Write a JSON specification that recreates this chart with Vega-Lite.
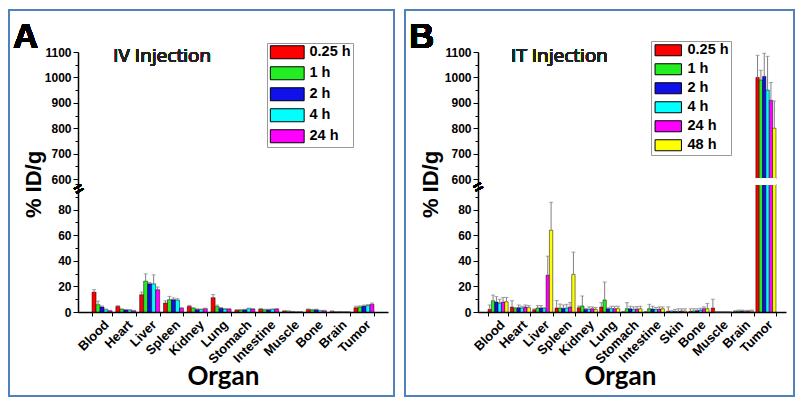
{
  "$schema": "https://vega.github.io/schema/vega-lite/v6.json",
  "padding": {"left": 8, "top": 9, "right": 0, "bottom": 0},
  "spacing": 9,
  "background": "white",
  "resolve": {"scale": {"color": "independent", "x": "independent", "y": "independent", "xOffset": "independent"}, "legend": {"color": "independent"}},
  "datasets": {
    "iv": [
      {"organ": "Blood", "time": "0.25 h", "value": 15.5, "hi": 17.5},
      {"organ": "Blood", "time": "1 h", "value": 5.7, "hi": 8.5},
      {"organ": "Blood", "time": "2 h", "value": 3.9, "hi": 4.7},
      {"organ": "Blood", "time": "4 h", "value": 1.8, "hi": 2.3},
      {"organ": "Blood", "time": "24 h", "value": 1.0, "hi": 1.3},
      {"organ": "Heart", "time": "0.25 h", "value": 4.3, "hi": 5.0},
      {"organ": "Heart", "time": "1 h", "value": 2.0, "hi": 2.5},
      {"organ": "Heart", "time": "2 h", "value": 1.6, "hi": 2.0},
      {"organ": "Heart", "time": "4 h", "value": 1.5, "hi": 1.8},
      {"organ": "Heart", "time": "24 h", "value": 1.0, "hi": 1.3},
      {"organ": "Liver", "time": "0.25 h", "value": 13.5, "hi": 15.6},
      {"organ": "Liver", "time": "1 h", "value": 24.1, "hi": 29.8},
      {"organ": "Liver", "time": "2 h", "value": 22.0, "hi": 23.0},
      {"organ": "Liver", "time": "4 h", "value": 22.0, "hi": 29.0},
      {"organ": "Liver", "time": "24 h", "value": 17.4, "hi": 19.5},
      {"organ": "Spleen", "time": "0.25 h", "value": 7.0, "hi": 8.8},
      {"organ": "Spleen", "time": "1 h", "value": 9.6, "hi": 12.2},
      {"organ": "Spleen", "time": "2 h", "value": 9.6, "hi": 11.0},
      {"organ": "Spleen", "time": "4 h", "value": 9.3, "hi": 10.4},
      {"organ": "Spleen", "time": "24 h", "value": 2.9, "hi": 3.5},
      {"organ": "Kidney", "time": "0.25 h", "value": 4.4, "hi": 5.2},
      {"organ": "Kidney", "time": "1 h", "value": 2.9, "hi": 3.4},
      {"organ": "Kidney", "time": "2 h", "value": 2.0, "hi": 2.5},
      {"organ": "Kidney", "time": "4 h", "value": 2.0, "hi": 2.3},
      {"organ": "Kidney", "time": "24 h", "value": 2.6, "hi": 3.0},
      {"organ": "Lung", "time": "0.25 h", "value": 11.2, "hi": 13.7},
      {"organ": "Lung", "time": "1 h", "value": 4.2, "hi": 5.4},
      {"organ": "Lung", "time": "2 h", "value": 2.9, "hi": 3.5},
      {"organ": "Lung", "time": "4 h", "value": 2.3, "hi": 2.8},
      {"organ": "Lung", "time": "24 h", "value": 2.3, "hi": 2.6},
      {"organ": "Stomach", "time": "0.25 h", "value": 1.5, "hi": 1.8},
      {"organ": "Stomach", "time": "1 h", "value": 1.5, "hi": 1.9},
      {"organ": "Stomach", "time": "2 h", "value": 1.8, "hi": 2.1},
      {"organ": "Stomach", "time": "4 h", "value": 2.6, "hi": 3.0},
      {"organ": "Stomach", "time": "24 h", "value": 2.3, "hi": 2.7},
      {"organ": "Intestine", "time": "0.25 h", "value": 2.2, "hi": 2.8},
      {"organ": "Intestine", "time": "1 h", "value": 1.8, "hi": 2.2},
      {"organ": "Intestine", "time": "2 h", "value": 1.8, "hi": 2.2},
      {"organ": "Intestine", "time": "4 h", "value": 2.0, "hi": 2.4},
      {"organ": "Intestine", "time": "24 h", "value": 2.3, "hi": 2.7},
      {"organ": "Muscle", "time": "0.25 h", "value": 0.8, "hi": 1.0},
      {"organ": "Muscle", "time": "1 h", "value": 0.6, "hi": 0.8},
      {"organ": "Muscle", "time": "2 h", "value": 0.4, "hi": 0.5},
      {"organ": "Muscle", "time": "4 h", "value": 0.3, "hi": 0.4},
      {"organ": "Muscle", "time": "24 h", "value": 0.3, "hi": 0.4},
      {"organ": "Bone", "time": "0.25 h", "value": 2.0, "hi": 2.4},
      {"organ": "Bone", "time": "1 h", "value": 1.6, "hi": 2.0},
      {"organ": "Bone", "time": "2 h", "value": 1.8, "hi": 2.2},
      {"organ": "Bone", "time": "4 h", "value": 1.0, "hi": 1.3},
      {"organ": "Bone", "time": "24 h", "value": 1.0, "hi": 1.3},
      {"organ": "Brain", "time": "0.25 h", "value": 0.6, "hi": 0.8},
      {"organ": "Brain", "time": "1 h", "value": 0.3, "hi": 0.4},
      {"organ": "Brain", "time": "2 h", "value": 0.2, "hi": 0.3},
      {"organ": "Brain", "time": "4 h", "value": 0.2, "hi": 0.3},
      {"organ": "Brain", "time": "24 h", "value": 0.2, "hi": 0.3},
      {"organ": "Tumor", "time": "0.25 h", "value": 3.3, "hi": 4.6},
      {"organ": "Tumor", "time": "1 h", "value": 4.0, "hi": 4.8},
      {"organ": "Tumor", "time": "2 h", "value": 4.6, "hi": 5.4},
      {"organ": "Tumor", "time": "4 h", "value": 5.0, "hi": 5.8},
      {"organ": "Tumor", "time": "24 h", "value": 6.0, "hi": 7.0}
    ],
    "it": [
      {"organ": "Blood", "time": "0.25 h", "value": 2.1, "hi": 5.5},
      {"organ": "Blood", "time": "1 h", "value": 8.8, "hi": 13.2},
      {"organ": "Blood", "time": "2 h", "value": 7.8, "hi": 12.0},
      {"organ": "Blood", "time": "4 h", "value": 7.0, "hi": 10.0},
      {"organ": "Blood", "time": "24 h", "value": 7.8, "hi": 11.4},
      {"organ": "Blood", "time": "48 h", "value": 8.0, "hi": 11.4},
      {"organ": "Heart", "time": "0.25 h", "value": 3.9, "hi": 8.8},
      {"organ": "Heart", "time": "1 h", "value": 2.6, "hi": 3.5},
      {"organ": "Heart", "time": "2 h", "value": 3.4, "hi": 5.5},
      {"organ": "Heart", "time": "4 h", "value": 3.1, "hi": 4.5},
      {"organ": "Heart", "time": "24 h", "value": 3.9, "hi": 5.5},
      {"organ": "Heart", "time": "48 h", "value": 3.4, "hi": 5.0},
      {"organ": "Liver", "time": "0.25 h", "value": 1.8, "hi": 2.5},
      {"organ": "Liver", "time": "1 h", "value": 3.1, "hi": 5.0},
      {"organ": "Liver", "time": "2 h", "value": 3.1, "hi": 5.0},
      {"organ": "Liver", "time": "4 h", "value": 2.6, "hi": 3.5},
      {"organ": "Liver", "time": "24 h", "value": 28.8, "hi": 43.6},
      {"organ": "Liver", "time": "48 h", "value": 63.9, "hi": 85.7},
      {"organ": "Spleen", "time": "0.25 h", "value": 3.1, "hi": 9.0},
      {"organ": "Spleen", "time": "1 h", "value": 3.1, "hi": 6.2},
      {"organ": "Spleen", "time": "2 h", "value": 2.9, "hi": 5.5},
      {"organ": "Spleen", "time": "4 h", "value": 3.1, "hi": 6.0},
      {"organ": "Spleen", "time": "24 h", "value": 3.9, "hi": 7.5},
      {"organ": "Spleen", "time": "48 h", "value": 29.4, "hi": 46.8},
      {"organ": "Kidney", "time": "0.25 h", "value": 3.4, "hi": 4.7},
      {"organ": "Kidney", "time": "1 h", "value": 4.7, "hi": 12.5},
      {"organ": "Kidney", "time": "2 h", "value": 2.1, "hi": 2.8},
      {"organ": "Kidney", "time": "4 h", "value": 2.1, "hi": 4.0},
      {"organ": "Kidney", "time": "24 h", "value": 2.6, "hi": 4.0},
      {"organ": "Kidney", "time": "48 h", "value": 2.0, "hi": 3.5},
      {"organ": "Lung", "time": "0.25 h", "value": 3.9, "hi": 7.3},
      {"organ": "Lung", "time": "1 h", "value": 9.4, "hi": 23.4},
      {"organ": "Lung", "time": "2 h", "value": 2.6, "hi": 3.3},
      {"organ": "Lung", "time": "4 h", "value": 2.6, "hi": 4.5},
      {"organ": "Lung", "time": "24 h", "value": 2.6, "hi": 4.5},
      {"organ": "Lung", "time": "48 h", "value": 2.6, "hi": 4.5},
      {"organ": "Stomach", "time": "0.25 h", "value": 0.3, "hi": 0.5},
      {"organ": "Stomach", "time": "1 h", "value": 2.6, "hi": 7.3},
      {"organ": "Stomach", "time": "2 h", "value": 2.5, "hi": 4.5},
      {"organ": "Stomach", "time": "4 h", "value": 2.0, "hi": 4.0},
      {"organ": "Stomach", "time": "24 h", "value": 2.3, "hi": 4.2},
      {"organ": "Stomach", "time": "48 h", "value": 2.5, "hi": 4.5},
      {"organ": "Intestine", "time": "0.25 h", "value": 0.3, "hi": 0.5},
      {"organ": "Intestine", "time": "1 h", "value": 2.6, "hi": 6.0},
      {"organ": "Intestine", "time": "2 h", "value": 2.3, "hi": 4.5},
      {"organ": "Intestine", "time": "4 h", "value": 2.0, "hi": 3.5},
      {"organ": "Intestine", "time": "24 h", "value": 2.2, "hi": 4.0},
      {"organ": "Intestine", "time": "48 h", "value": 2.5, "hi": 4.0},
      {"organ": "Skin", "time": "0.25 h", "value": 0.5, "hi": 4.0},
      {"organ": "Skin", "time": "1 h", "value": 0.3, "hi": 1.0},
      {"organ": "Skin", "time": "2 h", "value": 0.4, "hi": 2.0},
      {"organ": "Skin", "time": "4 h", "value": 0.5, "hi": 2.5},
      {"organ": "Skin", "time": "24 h", "value": 0.8, "hi": 2.5},
      {"organ": "Skin", "time": "48 h", "value": 0.6, "hi": 2.5},
      {"organ": "Bone", "time": "0.25 h", "value": 0.5, "hi": 2.5},
      {"organ": "Bone", "time": "1 h", "value": 0.8, "hi": 2.5},
      {"organ": "Bone", "time": "2 h", "value": 1.0, "hi": 2.5},
      {"organ": "Bone", "time": "4 h", "value": 1.5, "hi": 3.0},
      {"organ": "Bone", "time": "24 h", "value": 2.6, "hi": 4.0},
      {"organ": "Bone", "time": "48 h", "value": 2.6, "hi": 6.7},
      {"organ": "Muscle", "time": "0.25 h", "value": 3.1, "hi": 10.0},
      {"organ": "Muscle", "time": "1 h", "value": 0.1, "hi": 0.2},
      {"organ": "Muscle", "time": "2 h", "value": 0.1, "hi": 0.2},
      {"organ": "Muscle", "time": "4 h", "value": 0.1, "hi": 0.2},
      {"organ": "Muscle", "time": "24 h", "value": 0.1, "hi": 0.2},
      {"organ": "Muscle", "time": "48 h", "value": 0.1, "hi": 0.2},
      {"organ": "Brain", "time": "0.25 h", "value": 0.5, "hi": 1.0},
      {"organ": "Brain", "time": "1 h", "value": 0.6, "hi": 1.5},
      {"organ": "Brain", "time": "2 h", "value": 0.7, "hi": 1.5},
      {"organ": "Brain", "time": "4 h", "value": 0.5, "hi": 1.2},
      {"organ": "Brain", "time": "24 h", "value": 0.6, "hi": 1.3},
      {"organ": "Brain", "time": "48 h", "value": 0.7, "hi": 1.5},
      {"organ": "Tumor", "time": "0.25 h", "value": 1000, "hi": 1087},
      {"organ": "Tumor", "time": "1 h", "value": 990, "hi": 1028},
      {"organ": "Tumor", "time": "2 h", "value": 1004, "hi": 1095},
      {"organ": "Tumor", "time": "4 h", "value": 950, "hi": 1083},
      {"organ": "Tumor", "time": "24 h", "value": 910, "hi": 980},
      {"organ": "Tumor", "time": "48 h", "value": 800, "hi": 907}
    ]
  },
  "hconcat": [
    {
      "width": 385,
      "height": 386,
      "data": {"name": "iv"},
      "encoding": {
        "x": {
          "field": "organ", "type": "nominal",
          "scale": {"domain": ["Blood", "Heart", "Liver", "Spleen", "Kidney", "Lung", "Stomach", "Intestine", "Muscle", "Bone", "Brain", "Tumor"], "range": [69, 379], "paddingInner": 0.16, "paddingOuter": 0.59},
          "axis": {"orient": "bottom", "offset": -84, "title": "Organ", "titleX": 214, "titleY": 72, "titleBaseline": "alphabetic", "titleAlign": "center", "labelAngle": -45, "tickBand": "extent", "tickSize": 4}
        }
      },
      "layer": [
        {
          "mark": {"type": "bar", "stroke": "black", "strokeWidth": 0.5},
          "encoding": {
            "y": {
              "field": "value", "type": "quantitative",
              "scale": {"domain": [0, 100, 600, 1100], "range": [302, 174, 169, 42], "nice": false},
              "axis": {"offset": -69, "title": "% ID/g", "titleX": -45, "titleY": 174, "titleBaseline": "middle", "titleAlign": "center", "titleAngle": -90, "labelOverlap": false, "tickCount": 100, "format": "d",
                "values": [0, 10, 20, 30, 40, 50, 60, 70, 80, 90, 100, 600, 650, 700, 750, 800, 850, 900, 950, 1000, 1050, 1100],
                "labelExpr": "(datum.value <= 80 && datum.value % 20 == 0) || (datum.value >= 600 && datum.value % 100 == 0) ? datum.label : ''",
                "tickSize": {"condition": {"test": "(datum.value <= 80 && datum.value % 20 == 0) || (datum.value >= 600 && datum.value % 100 == 0)", "value": 5}, "value": 3}}
            },
            "xOffset": {"field": "time", "type": "nominal", "scale": {"domain": ["0.25 h", "1 h", "2 h", "4 h", "24 h"], "paddingInner": 0, "paddingOuter": 0}},
            "color": {
              "field": "time", "type": "nominal",
              "scale": {"domain": ["0.25 h", "1 h", "2 h", "4 h", "24 h"], "range": ["#ff0000", "#22ee22", "#1010e8", "#00ffff", "#ff00ff"]},
              "legend": {"orient": "none", "legendX": 258, "legendY": 33, "title": null, "symbolType": "M-2.6,-1H2.6V1H-2.6Z", "symbolSize": 169, "symbolStrokeColor": "black", "symbolStrokeWidth": 1, "symbolOpacity": 1, "labelFont": "Liberation Sans", "labelFontSize": 14.5, "labelFontWeight": "bold", "labelColor": "black", "strokeColor": "#999999", "padding": 2, "fillColor": "white", "rowPadding": 3, "symbolOffset": 11, "labelOffset": 15}
            }
          }
        },
        {
          "mark": {"type": "rule", "color": "#808080", "strokeWidth": 1},
          "encoding": {
            "y": {"field": "value", "type": "quantitative"},
            "y2": {"field": "hi"},
            "xOffset": {"field": "time", "type": "nominal"}
          }
        },
        {
          "mark": {"type": "tick", "color": "#808080", "thickness": 1, "size": 4, "orient": "horizontal"},
          "encoding": {
            "y": {"field": "hi", "type": "quantitative"},
            "xOffset": {"field": "time", "type": "nominal"}
          }
        },
        {
          "mark": {"type": "text", "font": "Open Sans", "fontSize": 19, "fontWeight": "normal", "align": "center", "baseline": "middle", "dx": 12.5, "color": "#222222"},
          "encoding": {"x": {"datum": "Liver"}, "y": {"datum": 1084}, "text": {"value": "IV Injection"}}
        },
        {
          "mark": {"type": "text", "font": "Liberation Sans", "fontSize": 35, "fontWeight": "bold", "align": "left", "baseline": "alphabetic", "dx": -89, "color": "black"},
          "encoding": {"x": {"datum": "Blood"}, "y": {"datum": 1115}, "text": {"value": "A"}}
        },
        {
          "mark": {"type": "text", "fontSize": 16, "fontWeight": "bold", "align": "center", "baseline": "middle", "dx": -24, "dy": -5, "angle": -30, "color": "black"},
          "encoding": {"x": {"datum": "Blood"}, "y": {"datum": 350}, "text": {"value": "="}}
        }
      ]
    },
    {
      "width": 389,
      "height": 386,
      "data": {"name": "it"},
      "encoding": {
        "x": {
          "field": "organ", "type": "nominal",
          "scale": {"domain": ["Blood", "Heart", "Liver", "Spleen", "Kidney", "Lung", "Stomach", "Intestine", "Skin", "Bone", "Muscle", "Brain", "Tumor"], "range": [73, 381], "paddingInner": 0.1, "paddingOuter": 0.45},
          "axis": {"orient": "bottom", "offset": -84, "title": "Organ", "titleX": 215, "titleY": 72, "titleBaseline": "alphabetic", "titleAlign": "center", "labelAngle": -45, "tickBand": "extent", "tickSize": 4}
        }
      },
      "layer": [
        {
          "mark": {"type": "bar", "stroke": "black", "strokeWidth": 0.5},
          "encoding": {
            "y": {
              "field": "value", "type": "quantitative",
              "scale": {"domain": [0, 100, 600, 1100], "range": [302, 174, 169, 42], "nice": false},
              "axis": {"offset": -73, "title": "% ID/g", "titleX": -48, "titleY": 174, "titleBaseline": "middle", "titleAlign": "center", "titleAngle": -90, "labelOverlap": false, "tickCount": 100, "format": "d",
                "values": [0, 10, 20, 30, 40, 50, 60, 70, 80, 90, 100, 600, 650, 700, 750, 800, 850, 900, 950, 1000, 1050, 1100],
                "labelExpr": "(datum.value <= 80 && datum.value % 20 == 0) || (datum.value >= 600 && datum.value % 100 == 0) ? datum.label : ''",
                "tickSize": {"condition": {"test": "(datum.value <= 80 && datum.value % 20 == 0) || (datum.value >= 600 && datum.value % 100 == 0)", "value": 5}, "value": 3}}
            },
            "xOffset": {"field": "time", "type": "nominal", "scale": {"domain": ["0.25 h", "1 h", "2 h", "4 h", "24 h", "48 h"], "paddingInner": 0, "paddingOuter": 0}},
            "color": {
              "field": "time", "type": "nominal",
              "scale": {"domain": ["0.25 h", "1 h", "2 h", "4 h", "24 h", "48 h"], "range": ["#ff0000", "#22ee22", "#1010e8", "#00ffff", "#ff00ff", "#ffff00"]},
              "legend": {"orient": "none", "legendX": 246, "legendY": 31, "title": null, "symbolType": "M-2.4,-1H2.4V1H-2.4Z", "symbolSize": 121, "symbolStrokeColor": "black", "symbolStrokeWidth": 1, "symbolOpacity": 1, "labelFont": "Liberation Sans", "labelFontSize": 14.5, "labelFontWeight": "bold", "labelColor": "black", "strokeColor": "#999999", "padding": 2, "fillColor": "white", "rowPadding": 3, "symbolOffset": 8, "labelOffset": 12}
            }
          }
        },
        {
          "mark": {"type": "rule", "color": "#808080", "strokeWidth": 1},
          "encoding": {
            "y": {"field": "value", "type": "quantitative"},
            "y2": {"field": "hi"},
            "xOffset": {"field": "time", "type": "nominal"}
          }
        },
        {
          "mark": {"type": "tick", "color": "#808080", "thickness": 1, "size": 4, "orient": "horizontal"},
          "encoding": {
            "y": {"field": "hi", "type": "quantitative"},
            "xOffset": {"field": "time", "type": "nominal"}
          }
        },
        {
          "mark": {"type": "rect", "color": "white", "stroke": "white", "strokeWidth": 1},
          "encoding": {"x": {"datum": "Tumor"}, "y": {"datum": 100}, "y2": {"datum": 600}}
        },
        {
          "mark": {"type": "text", "font": "Open Sans", "fontSize": 19, "fontWeight": "normal", "align": "center", "baseline": "middle", "dx": -5.5, "color": "#222222"},
          "encoding": {"x": {"datum": "Spleen"}, "y": {"datum": 1084}, "text": {"value": "IT Injection"}}
        },
        {
          "mark": {"type": "text", "font": "Liberation Sans", "fontSize": 35, "fontWeight": "bold", "align": "left", "baseline": "alphabetic", "dx": -89, "color": "black"},
          "encoding": {"x": {"datum": "Blood"}, "y": {"datum": 1115}, "text": {"value": "B"}}
        },
        {
          "mark": {"type": "text", "fontSize": 16, "fontWeight": "bold", "align": "center", "baseline": "middle", "dx": -20, "dy": -5, "angle": -30, "color": "black"},
          "encoding": {"x": {"datum": "Blood"}, "y": {"datum": 350}, "text": {"value": "="}}
        }
      ]
    }
  ],
  "config": {
    "font": "Liberation Sans",
    "view": {"stroke": "#4f81bd", "strokeWidth": 2},
    "axis": {
      "grid": false,
      "domainColor": "black", "domainWidth": 1.5, "tickColor": "black", "tickWidth": 1,
      "labelFont": "Liberation Sans", "labelFontSize": 12, "labelFontWeight": "bold", "labelColor": "black", "labelPadding": 2,
      "titleColor": "black"
    },
    "axisX": {"labelFontSize": 13, "titleFont": "Lato", "titleFontSize": 26, "titleFontWeight": "bold"},
    "axisY": {"labelFontSize": 12, "titleFont": "Liberation Sans", "titleFontSize": 22, "titleFontWeight": "bold"}
  }
}
